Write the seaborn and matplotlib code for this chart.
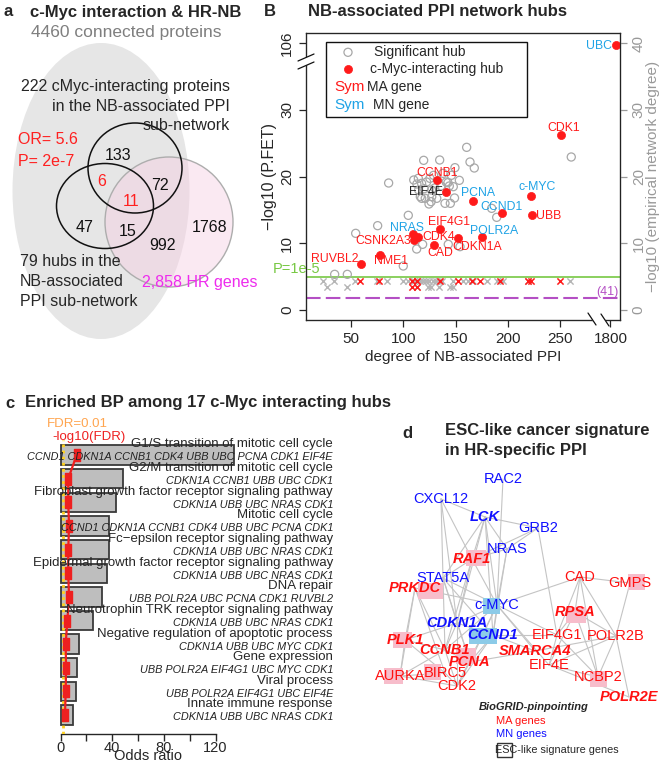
import matplotlib
matplotlib.use("Agg")
import matplotlib.pyplot as plt
from matplotlib.patches import Ellipse, Rectangle, Polygon
import numpy as np
import pandas as pd
import seaborn as sns

sns.set_style("ticks")
plt.rcParams['font.family'] = ['Liberation Sans', 'DejaVu Sans']

W, H = 660, 764

# ---------------- panel a: venn counts
venn_counts = ["133", "6", "72", "11", "47", "15", "992", "1768"]
venn_colors = ["black", "red", "black", "red", "black", "black", "black", "black"]
venn_pos = [(118, 155), (102, 182), (160, 185), (131, 202), (85, 227), (128, 232), (163, 245), (210, 227)]

# ---------------- panel B: hubs
hub_names = ["UBC", "CDK1", "c-MYC", "UBB", "CCND1", "PCNA", "POLR2A", "CDKN1A", "CAD",
             "EIF4G1", "CDK4", "NRAS", "CSNK2A3", "NME1", "RUVBL2", "CCNB1", "EIF4E"]
hub_degree = [1811, 251, 222, 223, 194, 167, 175, 152.5, 129.5,
              135, 114.5, 109.5, 110, 77.5, 60, 132, 141]
hub_logp = [105.8, 26.3, 17.1, 14.3, 14.5, 16.4, 10.9, 10.75, 9.75,
            12.2, 10.9, 11.35, 10.5, 8.25, 6.95, 19.45, 17.75]
hub_kind = ["MN", "MA", "MN", "MA", "MN", "MN", "MN", "MA", "MA",
            "MA", "MA", "MN", "MA", "MA", "MA", "MA", "other"]
# label offsets (pixels, ha)
hub_lab = [(-4, -1, "right"), (2, 7, "center"), (6, 9, "center"), (4, -1, "left"), (0, 6, "center"),
           (5, 7.5, "center"), (12, 6.5, "center"), (19, -8.5, "center"), (6, -8, "center"),
           (9, 6.5, "center"), (4, 0, "left"), (-6, 6, "center"), (-3, -1.5, "right"),
           (11, -6, "center"), (-3, 4.5, "right"), (0, 7.5, "center"), (-3, 0, "right")]

sig_degree = [160.6, 163.8, 167.9, 119.5, 134.8, 149.4, 153.6, 260.6, 86, 117.6, 124.6, 139.9,
              104.8, 75.5, 54.5, 112.8, 118.5, 143, 100, 34.4, 46.5, 189.3, 184.5, 114.4, 117.5,
              122.3, 125.5, 129, 136, 141, 144, 121, 132, 126.6, 145, 120, 127, 113, 110, 138,
              130, 149, 146, 114.7, 116.3, 127.2, 142.7, 147.8, 154.2]
sig_logp = [24.4, 22.2, 21.3, 22.45, 22.5, 21.35, 19.45, 22.95, 19.05, 16.75, 15.9, 16.0,
            14.2, 12.65, 11.5, 9.15, 9.85, 9.85, 6.6, 5.35, 5.35, 13.9, 15.25, 19.75, 19.0,
            19.2, 19.75, 20.2, 18.6, 19.2, 18.6, 16.75, 16.75, 16.25, 16.0, 18.2, 18.0, 18.9,
            19.5, 20.5, 18.3, 16.8, 20.2, 18.0, 17.0, 17.0, 19.1, 18.5, 9.5]

ns_degree = [23.5, 33.8, 53.8, 74.5, 84, 100, 104.8, 110, 113, 116, 119, 122, 125, 128, 131,
             134, 137, 147.8, 157.4, 162.2, 167, 179.7, 189.3, 195.6, 219.5, 259.4,
             27.4, 45.9, 113, 124, 126.2, 134.1, 144.6, 147.8]
ns_logp = [4.4] * 26 + [3.4] * 8
ns_myc_degree = [58.6, 77, 108.6, 113.4, 135, 152, 166, 173.3, 192.4, 219.5, 221.8, 249.8, 108.6, 113]
ns_myc_logp = [4.4] * 12 + [3.4] * 2

# ---------------- panel c: enriched BP
bp_terms = ["G1/S transition of mitotic cell cycle", "G2/M transition of mitotic cell cycle",
            "Fibroblast growth factor receptor signaling pathway", "Mitotic cell cycle",
            "Fc\u2212epsilon receptor signaling pathway", "Epidermal growth factor receptor signaling pathway",
            "DNA repair", "Neurotrophin TRK receptor signaling pathway",
            "Negative regulation of apoptotic process", "Gene expression", "Viral process",
            "Innate immune response"]
bp_genes = ["CCND1 CDKN1A CCNB1 CDK4 UBB UBC PCNA CDK1 EIF4E", "CDKN1A CCNB1 UBB UBC CDK1",
            "CDKN1A UBB UBC NRAS CDK1", "CCND1 CDKN1A CCNB1 CDK4 UBB UBC PCNA CDK1",
            "CDKN1A UBB UBC NRAS CDK1", "CDKN1A UBB UBC NRAS CDK1",
            "UBB POLR2A UBC PCNA CDK1 RUVBL2", "CDKN1A UBB UBC NRAS CDK1",
            "CDKN1A UBB UBC MYC CDK1", "UBB POLR2A EIF4G1 UBC MYC CDK1",
            "UBB POLR2A EIF4G1 UBC EIF4E", "CDKN1A UBB UBC NRAS CDK1"]
bp_or = [134, 48.6, 42.9, 37.5, 37.5, 36.2, 32.3, 24.9, 14.3, 13, 12, 9.9]
bp_logfdr = [12.5, 6, 6, 6.6, 6, 6, 6.6, 5.3, 4, 4.3, 4, 3.5]
fdr_cut = 2  # -log10(0.01)

# ---------------- panel d: network
node_names = ["RAC2", "CXCL12", "LCK", "GRB2", "NRAS", "RAF1", "STAT5A", "PRKDC", "CAD", "GMPS",
              "c-MYC", "RPSA", "CDKN1A", "PLK1", "CCND1", "EIF4G1", "POLR2B", "CCNB1", "SMARCA4",
              "PCNA", "EIF4E", "AURKA", "BIRC5", "NCBP2", "CDK2", "POLR2E"]
node_x = [503, 441, 485, 538, 507, 472, 443, 415, 580, 630, 497, 575, 457, 405, 493, 557, 616,
          445, 535, 470, 549, 400, 445, 598, 457, 629]
node_y = [479, 499, 517, 528, 549, 559, 578, 588, 577, 583, 605, 612, 623, 640, 635, 635, 636,
          650, 651, 662, 665, 676, 673, 677, 686, 697]
node_group = ["MN", "MN", "MN", "MN", "MN", "MA", "MN", "MA", "MA", "MA", "MN", "MA", "MN", "MA",
              "MN", "MA", "MA", "MA", "MA", "MA", "MA", "MA", "MA", "MA", "MA", "MA"]
node_pinpoint = ["LCK", "RAF1", "PRKDC", "RPSA", "CDKN1A", "PLK1", "CCND1", "CCNB1", "SMARCA4",
                 "PCNA", "POLR2E"]
esc_genes = ["RAF1", "PRKDC", "GMPS", "c-MYC", "RPSA", "PLK1", "CCND1", "PCNA", "AURKA", "BIRC5", "NCBP2"]
esc_box_x = [476, 430, 636, 491, 576, 402, 483, 466, 393, 432, 598]
esc_box_y = [558, 591, 582, 606, 615, 640, 636, 656, 676, 672, 679]
esc_box_w = [20, 25, 17, 17, 20, 19, 28, 20, 19, 17, 17]
edges = [("RAC2", "c-MYC"), ("CXCL12", "LCK"), ("CXCL12", "STAT5A"), ("CXCL12", "RAF1"),
         ("CXCL12", "CDKN1A"), ("LCK", "GRB2"), ("LCK", "RAF1"), ("LCK", "STAT5A"), ("LCK", "c-MYC"),
         ("LCK", "CDKN1A"), ("LCK", "CCND1"), ("LCK", "NRAS"), ("GRB2", "NRAS"), ("GRB2", "RAF1"),
         ("GRB2", "EIF4G1"), ("NRAS", "RAF1"), ("NRAS", "c-MYC"), ("NRAS", "CCND1"),
         ("RAF1", "c-MYC"), ("RAF1", "CDKN1A"), ("RAF1", "STAT5A"), ("RAF1", "CCNB1"),
         ("STAT5A", "c-MYC"), ("STAT5A", "CCND1"), ("STAT5A", "CDKN1A"), ("STAT5A", "CCNB1"),
         ("STAT5A", "PCNA"), ("PRKDC", "PLK1"), ("PRKDC", "AURKA"), ("PRKDC", "CCNB1"),
         ("PRKDC", "c-MYC"), ("PRKDC", "BIRC5"), ("c-MYC", "CAD"), ("c-MYC", "SMARCA4"),
         ("c-MYC", "EIF4E"), ("c-MYC", "CCNB1"), ("c-MYC", "CDKN1A"), ("c-MYC", "CCND1"),
         ("c-MYC", "PCNA"), ("c-MYC", "CDK2"), ("c-MYC", "EIF4G1"), ("CAD", "GMPS"), ("CAD", "RPSA"),
         ("CAD", "POLR2B"), ("CAD", "NCBP2"), ("CAD", "EIF4G1"), ("GMPS", "POLR2B"),
         ("RPSA", "EIF4G1"), ("RPSA", "NCBP2"), ("RPSA", "POLR2B"), ("RPSA", "EIF4E"),
         ("POLR2B", "NCBP2"), ("POLR2B", "POLR2E"), ("POLR2B", "EIF4E"), ("EIF4E", "NCBP2"),
         ("EIF4E", "POLR2E"), ("EIF4G1", "EIF4E"), ("EIF4G1", "NCBP2"), ("CCND1", "EIF4G1"),
         ("CCND1", "SMARCA4"), ("CCND1", "CDK2"), ("CCND1", "CDKN1A"), ("CCND1", "PCNA"),
         ("SMARCA4", "PCNA"), ("SMARCA4", "POLR2B"), ("PLK1", "AURKA"), ("PLK1", "CCNB1"),
         ("PLK1", "BIRC5"), ("PLK1", "CDKN1A"), ("AURKA", "BIRC5"), ("AURKA", "CDK2"),
         ("AURKA", "CCNB1"), ("BIRC5", "CDK2"), ("CCNB1", "CDK2"), ("CCNB1", "PCNA"),
         ("PCNA", "CDK2"), ("CDKN1A", "PCNA"), ("CDKN1A", "CDK2"), ("CDKN1A", "CCNB1")]

RED = "#FF1A1A"
SKY = "#1FA3E6"


def brk_x(d):
    d = np.asarray(d, dtype=float)
    return np.where(d > 500, 298 + (d - 1800) * 0.5, d)


def brk_y(p):
    p = np.asarray(p, dtype=float)
    return np.where(p > 50, 40 + (p - 106), p)


fig = plt.figure(figsize=(6.6, 7.64), dpi=100)

# ================= panel B
axb = fig.add_axes([306 / W, 1 - 320 / H, (620 - 306) / W, (320 - 33) / H])
axb.axhline(5, color="#77C843", lw=1.2, zorder=1)
axb.axhline(1.75, color="#B44FC4", lw=1.5, ls=(0, (7, 2.5)), zorder=1)
sns.scatterplot(x=ns_degree, y=ns_logp, marker="x", color="#b5b5b5", s=20, linewidth=1.0, ax=axb, zorder=2)
sns.scatterplot(x=ns_myc_degree, y=ns_myc_logp, marker="x", color=RED, s=20, linewidth=1.1, ax=axb, zorder=3)
sns.scatterplot(x=sig_degree, y=sig_logp, marker="o", color="none", edgecolor="#a8a8a8", s=34,
                linewidth=0.9, ax=axb, zorder=2)
sns.scatterplot(x=brk_x(hub_degree), y=brk_y(hub_logp), marker="o", color=RED, edgecolor=RED, s=34,
                linewidth=0.5, ax=axb, zorder=4)
hx, hy = brk_x(hub_degree), brk_y(hub_logp)
kind_col = {"MA": RED, "MN": SKY, "other": "#222222"}
for name, x, y, k, (dx, dy, ha) in zip(hub_names, hx, hy, hub_kind, hub_lab):
    axb.annotate(name, (x, y), xytext=(dx * 0.72, dy * 0.72), textcoords="offset points",
                 ha=ha, va="center", fontsize=8.8, color=kind_col[k], zorder=5)
axb.text(-1.6, 6.15, "P=1e-5", color="#77C843", fontsize=10.5, ha="center", va="center", clip_on=False)
axb.text(294.7, 2.7, "(41)", color="#B44FC4", fontsize=9, ha="center", va="center")
axb.set_xlim(7, 307.2)
axb.set_ylim(-1.5, 41.55)
axb.set_xticks([50, 100, 150, 200, 250, 298])
axb.set_xticklabels(["50", "100", "150", "200", "250", "1800"])
axb.set_yticks([0, 10, 20, 30, 40])
axb.set_yticklabels(["0", "10", "20", "30", "106"], rotation=90, va="center")
axb.tick_params(labelsize=11, length=5, width=0.9)
for sp in axb.spines.values():
    sp.set_linewidth(0.9)
    sp.set_color("#222222")
axb.set_xlabel("degree of NB-associated PPI", fontsize=11, labelpad=3)
axb.set_ylabel("\u2212log10 (P.FET)", fontsize=11.5, labelpad=2)
axr = axb.twinx()
axr.set_ylim(-1.5, 41.55)
axr.set_yticks([0, 10, 20, 30, 40])
axr.set_yticklabels(["0", "10", "20", "30", "40"], rotation=90, va="center", color="#999999")
axr.tick_params(labelsize=11, length=5, width=0.9, colors="#999999")
axr.spines["right"].set_color("#222222")
axr.set_ylabel("\u2212log10 (empirical network degree)", fontsize=11, color="#999999", labelpad=0)

# ================= panel c
axc = fig.add_axes([55 / W, 1 - 734 / H, 185 / W, (734 - 440) / H])
df_bp = pd.DataFrame({"term": bp_terms, "odds": bp_or})
sns.barplot(data=df_bp, x="odds", y="term", orient="h", color="#BEBEBE", saturation=1,
            edgecolor="#3a3a3a", linewidth=1.3, width=0.82, ax=axc)
axc.axvline(fdr_cut, color="#FFD21F", lw=2, ls=(0, (1, 1.2)), zorder=3)
rect_marker = [(-0.55, -1), (0.55, -1), (0.55, 1), (-0.55, 1), (-0.55, -1)]
axc.plot(bp_logfdr, np.arange(len(bp_logfdr)), color="#EE2020", lw=1.6, marker=rect_marker,
         ms=8, zorder=4)
axc.set_xlim((55 - 60.5) / 1.2925, (240 - 60.5) / 1.2925)
axc.set_ylim(11.8, -0.635)
for i, (t, g) in enumerate(zip(bp_terms, bp_genes)):
    axc.text(210.8, i - 0.45, t, ha="right", va="center", fontsize=9.5, clip_on=False, zorder=5)
    axc.text(210.8, i + 0.1, g, ha="right", va="center", fontsize=7.8, style="italic",
             color="#222222", clip_on=False, zorder=5)
for s in ["left", "top", "right"]:
    axc.spines[s].set_visible(False)
axc.spines["bottom"].set_bounds(0, 120)
axc.spines["bottom"].set_linewidth(1)
axc.set_xticks([0, 40, 80, 120])
axc.set_xticks([20, 60, 100], minor=True)
axc.tick_params(axis="x", which="both", length=5, width=1, labelsize=10.5, pad=0)
axc.set_yticks([])
axc.set_ylabel("")
axc.set_xlabel("Odds ratio", fontsize=10.5, labelpad=-4)

# ================= overlay (pixel coordinates)
ov = fig.add_axes([0, 0, 1, 1], zorder=10)
ov.set_xlim(0, W)
ov.set_ylim(H, 0)
ov.axis("off")

# panel titles
ov.text(3, 12, "a", fontsize=12, weight="bold", va="center")
ov.text(30, 12, "c-Myc interaction & HR-NB", fontsize=12, weight="bold", va="center")
ov.text(264, 12, "B", fontsize=12, weight="bold", va="center")
ov.text(308, 12, "NB-associated PPI network hubs", fontsize=12, weight="bold", va="center")
ov.text(5, 403, "c", fontsize=12, weight="bold", va="center")
ov.text(25, 403, "Enriched BP among 17 c-Myc interacting hubs", fontsize=12, weight="bold", va="center")
ov.text(402, 433, "d", fontsize=12, weight="bold", va="center")
ov.text(445, 430, "ESC-like cancer signature", fontsize=12, weight="bold", va="center")
ov.text(445, 450, "in HR-specific PPI", fontsize=12, weight="bold", va="center")

# panel c annotations
ov.text(77, 424.3, "FDR=0.01", color="#FFA54F", fontsize=9.5, ha="center", va="center")
ov.text(89, 436.7, "-log10(FDR)", color="#EE2020", fontsize=9.5, ha="center", va="center")

# venn
ov.add_patch(Ellipse((101, 191), 177, 296, facecolor="#E6E6E6", edgecolor="none", zorder=0))
ov.add_patch(Ellipse((169, 222), 128, 130, facecolor="#F6CFE3", alpha=0.45, edgecolor="none", zorder=1))
ov.add_patch(Ellipse((169, 222), 128, 130, fill=False, edgecolor="#ADADAD", lw=1, zorder=1))
ov.add_patch(Ellipse((135, 168), 94, 90, fill=False, edgecolor="#111111", lw=1.1, zorder=2))
ov.add_patch(Ellipse((105, 206), 97, 85, fill=False, edgecolor="#111111", lw=1.1, zorder=2))
for txt, col, (x, y) in zip(venn_counts, venn_colors, venn_pos):
    ov.text(x, y, txt, color=("#FF2020" if col == "red" else "#111111"), fontsize=11.5,
            ha="center", va="center", zorder=3)
ov.text(126, 33, "4460 connected proteins", color="#7f7f7f", fontsize=12.5, ha="center", va="center")
for i, line in enumerate(["222 cMyc-interacting proteins", "in the NB-associated PPI", "sub-network"]):
    ov.text(230, 87 + 19.5 * i, line, fontsize=11.5, ha="right", va="center")
ov.text(18, 140, "OR= 5.6", color="#FF2020", fontsize=11.5, va="center")
ov.text(18, 161, "P= 2e-7", color="#FF2020", fontsize=11.5, va="center")
for i, line in enumerate(["79 hubs in the", "NB-associated", "PPI sub-network"]):
    ov.text(20, 262 + 19.5 * i, line, fontsize=11.5, va="center")
ov.text(142, 283, "2,858 HR genes", color="#EE2BEE", fontsize=11.5, va="center")

# panel B legend
ov.add_patch(Rectangle((326, 41.7), 200.7, 75.6, facecolor="white", edgecolor="#111111", lw=1, zorder=3))
ov.scatter([348], [52.3], s=34, facecolor="none", edgecolor="#a8a8a8", lw=0.9, zorder=4)
ov.scatter([348], [69.3], s=34, facecolor=RED, edgecolor=RED, lw=0.5, zorder=4)
ov.text(350, 87.3, "Sym", color=RED, fontsize=11, ha="center", va="center", zorder=4)
ov.text(350, 105, "Sym", color=SKY, fontsize=11, ha="center", va="center", zorder=4)
ov.text(374, 52.3, "Significant hub", fontsize=10, va="center", zorder=4)
ov.text(370, 69.3, "c-Myc-interacting hub", fontsize=10, va="center", zorder=4)
ov.text(367, 87.3, "MA gene", fontsize=10, va="center", zorder=4)
ov.text(373, 105, "MN gene", fontsize=10, va="center", zorder=4)

# axis break marks on panel B
ov.add_patch(Polygon([(298, 61), (314, 54), (314, 62), (298, 69)], facecolor="white", edgecolor="none", zorder=3))
ov.plot([298, 314], [61, 54], color="#111111", lw=0.9, zorder=4)
ov.plot([298, 314], [69, 62], color="#111111", lw=0.9, zorder=4)
ov.add_patch(Polygon([(588, 313), (601, 313), (609, 326), (596, 326)], facecolor="white", edgecolor="none", zorder=3))
ov.plot([588, 596], [313, 325], color="#111111", lw=0.9, zorder=4)
ov.plot([601, 609], [314, 326], color="#111111", lw=0.9, zorder=4)

# panel d network
pos = {n: (x, y) for n, x, y in zip(node_names, node_x, node_y)}
for a, b in edges:
    ov.plot([pos[a][0], pos[b][0]], [pos[a][1], pos[b][1]], color="#C4C4C4", lw=0.8, zorder=1)
for g, bx, by, bw in zip(esc_genes, esc_box_x, esc_box_y, esc_box_w):
    col = "#8CCBE8" if node_group[node_names.index(g)] == "MN" else "#F7BDCB"
    ov.add_patch(Rectangle((bx - bw / 2, by - 8), bw, 16, facecolor=col, edgecolor="none", zorder=2))
for n, x, y, g in zip(node_names, node_x, node_y, node_group):
    bold = n in node_pinpoint
    ov.text(x, y, n, color=("#FF1010" if g == "MA" else "#1010FF"), fontsize=10.5, ha="center",
            va="center", weight=("bold" if bold else "normal"), style=("italic" if bold else "normal"),
            zorder=3)
ov.text(534, 707, "BioGRID-pinpointing", fontsize=8, weight="bold", style="italic", ha="center", va="center")
ov.text(496, 721, "MA genes", color="#FF1010", fontsize=8, va="center")
ov.text(496, 734, "MN genes", color="#1010FF", fontsize=8, va="center")
ov.add_patch(Rectangle((497, 743), 15, 14, fill=False, edgecolor="#333333", lw=1))
ov.text(494.7, 750, "ESC-like signature genes", fontsize=7.8, va="center")

fig.savefig("out.png", dpi=100)
